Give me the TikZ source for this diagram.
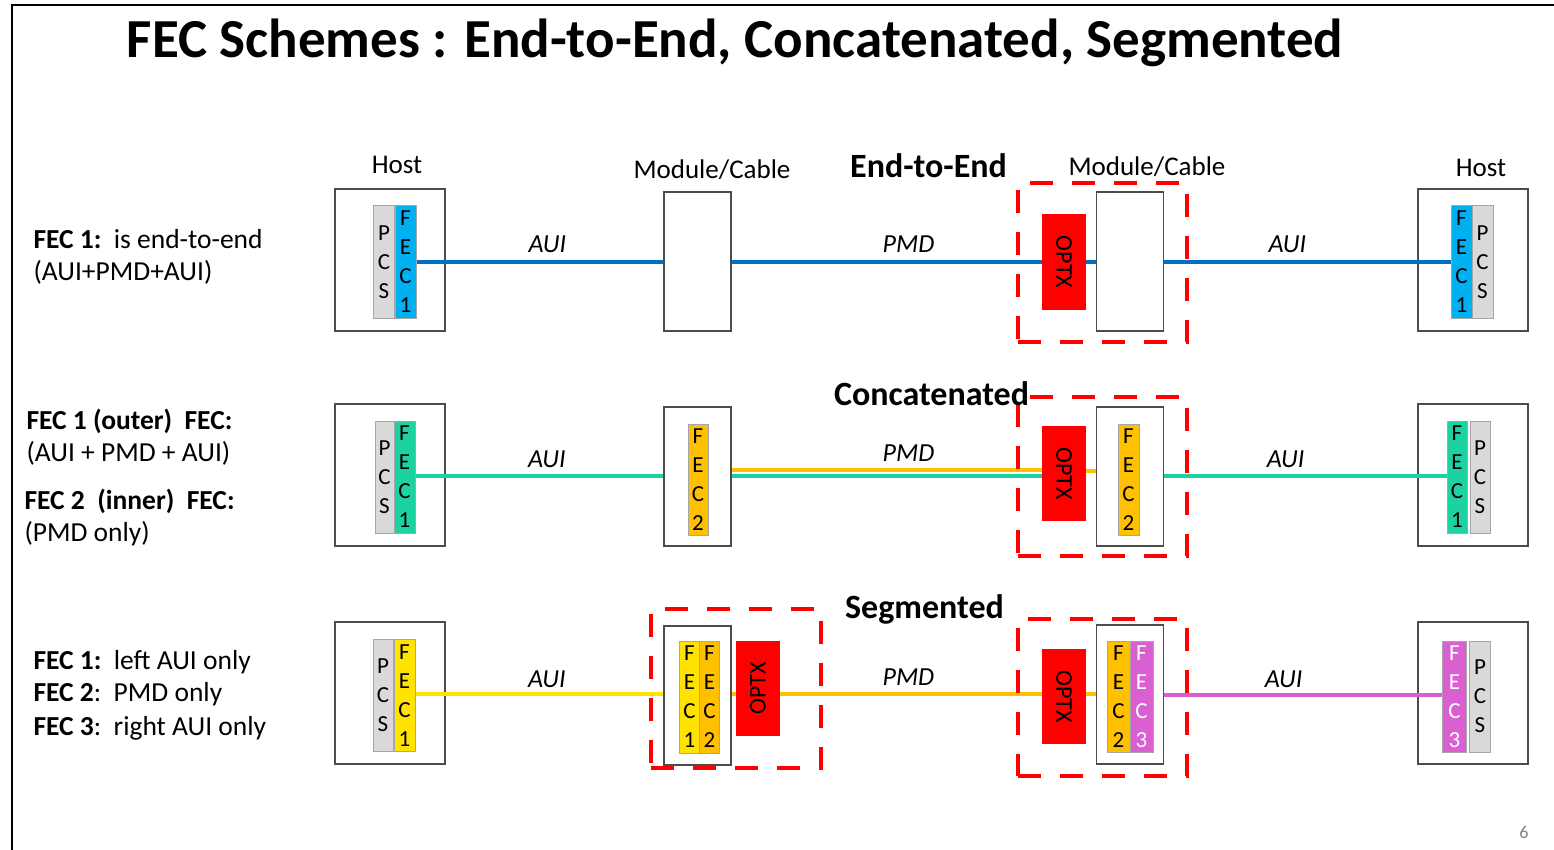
\documentclass[tikz,border=0pt]{standalone}
\usepackage{fontspec}
\setmainfont{Carlito}
\usetikzlibrary{positioning}

\definecolor{linkblue}{RGB}{0,112,192}
\definecolor{fecblue}{RGB}{0,176,240}
\definecolor{fecteal}{RGB}{28,210,160}
\definecolor{fecorange}{RGB}{255,192,0}
\definecolor{fecyellow}{RGB}{255,226,0}
\definecolor{fecpink}{RGB}{218,95,208}
\definecolor{pcsgray}{RGB}{217,217,217}

\begin{document}
\begin{tikzpicture}[x=1pt, y=-1pt,
    box/.style={draw=black!70, line width=1.3pt, fill=white, inner sep=0pt},
    hostbox/.style={box, minimum width=110pt, minimum height=142pt},
    modbox/.style={box, minimum width=67pt, minimum height=139pt},
    slot/.style={draw=black!35, line width=1pt, inner sep=0pt, minimum width=21pt,
      minimum height=112pt, align=center, font=\fontsize{23}{29}\selectfont},
    optxbox/.style={fill=red, inner sep=0pt, minimum width=44pt, minimum height=96pt,
      font=\fontsize{24}{28}\selectfont},
    zone/.style={draw=red, line width=4pt, dash pattern=on 23pt off 19pt,
      minimum width=169pt, minimum height=159pt, inner sep=0pt},
    link/.style={line width=4pt},
    lbl/.style={font=\fontsize{26}{30}\selectfont\itshape, anchor=base, yshift=9pt},
    side/.style={font=\fontsize{27.5}{30}\selectfont, anchor=base west},
    heading/.style={font=\fontsize{34}{38}\selectfont\bfseries, anchor=base},
    toplbl/.style={font=\fontsize{27}{30}\selectfont, anchor=base}
  ]
  \useasboundingbox (0,0) rectangle (1554,850);
  \draw[line width=2pt] (12,850) -- (12,5) -- (1554,5);

  \node[anchor=base, font=\fontsize{55}{60}\selectfont\bfseries] (title) at (735,58)
    {FEC Schemes : End-to-End, Concatenated, Segmented};

  % line levels
  \coordinate (lvl1) at (0,262);
  \coordinate (lvl2) at (0,476);
  \coordinate (lvl3) at (0,694);

  % ---- End-to-End
  \node[hostbox] (hostL1) at (390,260) {};
  \node[slot, fill=pcsgray] (pcsL1) at (384,262) {P\\C\\S};
  \node[slot, fill=fecblue] (fecL1) at (405.5,262) {F\\E\\C\\1};
  \node[modbox] (modL1) at (697.5,261.5) {};
  \node[optxbox] (optx1) at (1064,262) {\rotatebox{-90}{OPTX}};
  \node[modbox] (modR1) at (1130,261.5) {};
  \node[hostbox] (hostR1) at (1473,260) {};
  \node[slot, fill=fecblue] (fecR1) at (1461.5,262) {F\\E\\C\\1};
  \node[slot, fill=pcsgray] (pcsR1) at (1482.5,262) {P\\C\\S};

  \draw[link, linkblue] (fecL1.east |- lvl1) -- node[lbl, pos=0.53, black] {AUI} (modL1.west |- lvl1);
  \draw[link, linkblue] (modL1.east |- lvl1) -- node[lbl, pos=0.57, black] {PMD} (optx1.west |- lvl1);
  \draw[link, linkblue] (optx1.east |- lvl1) -- (modR1.west |- lvl1);
  \draw[link, linkblue] (modR1.east |- lvl1) -- node[lbl, pos=0.43, black] {AUI} (fecR1.west |- lvl1);
  \node[zone] (zone1) at (1102.5,262.5) {};

  \node[toplbl] (hostL1txt) at (397,174) {Host};
  \node[toplbl] (modL1txt) at (712,179) {Module/Cable};
  \node[heading] (e2e) at (928.5,178) {End-to-End};
  \node[toplbl] (modR1txt) at (1147,176) {Module/Cable};
  \node[toplbl] (hostR1txt) at (1481,177) {Host};

  \node[side] (txt11) at (30,248) {\textbf{FEC 1:}\ \ is end-to-end};
  \node[side] (txt12) at (30,280) {(AUI+PMD+AUI)};

  % ---- Concatenated
  \node[hostbox] (hostL2) at (390,475) {};
  \node[slot, fill=pcsgray, minimum width=19pt] (pcsL2) at (384.5,477) {P\\C\\S};
  \node[slot, fill=fecteal] (fecL2) at (404.5,477) {F\\E\\C\\1};
  \node[modbox] (modL2) at (697.5,476.5) {};
  \node[slot, fill=fecorange, minimum width=20pt, minimum height=111pt] (fecM2) at (698,479.5) {F\\E\\C\\2};
  \node[optxbox, minimum height=95pt] (optx2) at (1064,473.5) {\rotatebox{-90}{OPTX}};
  \node[modbox] (modR2) at (1130,476.5) {};
  \node[slot, fill=fecorange, minimum height=111pt] (fecN2) at (1128.5,479.5) {F\\E\\C\\2};
  \node[hostbox] (hostR2) at (1473,475) {};
  \node[slot, fill=fecteal, minimum width=20pt] (fecR2) at (1457,477) {F\\E\\C\\1};
  \node[slot, fill=pcsgray, minimum width=20pt] (pcsR2) at (1480,477) {P\\C\\S};

  \draw[link, fecteal] (fecL2.east |- lvl2) -- node[lbl, pos=0.53, black] {AUI} (modL2.west |- lvl2);
  \draw[link, fecorange] ([yshift=6pt]modL2.east |- lvl2) -- ([yshift=6pt]optx2.west |- lvl2);
  \draw[link, fecteal] (modL2.east |- lvl2) -- node[lbl, pos=0.57, yshift=6pt, black] {PMD} (optx2.west |- lvl2);
  \draw[link, fecorange] ([yshift=5pt]optx2.east |- lvl2) -- ([yshift=5pt]modR2.west |- lvl2);
  \draw[link, fecteal] (modR2.east |- lvl2) -- node[lbl, pos=0.43, black] {AUI} (fecR2.west |- lvl2);
  \node[zone] (zone2) at (1102.5,476.5) {};

  \node[heading] (concat) at (931.5,405) {Concatenated};

  \node[side] (txt21) at (23,429) {\textbf{FEC 1 (outer)\ \ FEC:}};
  \node[side] (txt22) at (23,461) {(AUI + PMD + AUI)};
  \node[side] (txt23) at (21,509) {\textbf{FEC 2\ \ (inner)\ \ FEC:}};
  \node[side] (txt24) at (21,541) {(PMD only)};

  % ---- Segmented
  \node[hostbox] (hostL3) at (390,693) {};
  \node[slot, fill=pcsgray, minimum width=20pt] (pcsL3) at (383,695.5) {P\\C\\S};
  \node[slot, fill=fecyellow] (fecL3) at (404.5,695.5) {F\\E\\C\\1};
  \node[modbox] (modL3) at (697.5,695.5) {};
  \node[slot, fill=fecyellow, minimum width=20pt] (fecM3a) at (689.5,697) {F\\E\\C\\1};
  \node[slot, fill=fecorange, minimum width=20pt] (fecM3b) at (709.5,697) {F\\E\\C\\2};
  \node[optxbox, minimum height=95pt] (optx3a) at (758,688.5) {\rotatebox{90}{OPTX}};
  \node[optxbox, minimum height=95pt] (optx3b) at (1064,696.5) {\rotatebox{-90}{OPTX}};
  \node[modbox] (modR3) at (1130,694.5) {};
  \node[slot, fill=fecorange, minimum width=23pt, minimum height=111pt] (fecN3a) at (1118.5,696.5) {F\\E\\C\\2};
  \node[slot, fill=fecpink, text=white, minimum width=23pt, minimum height=111pt] (fecN3b) at (1141.5,696.5) {F\\E\\C\\3};
  \node[hostbox] (hostR3) at (1473,693) {};
  \node[slot, fill=fecpink, text=white, minimum width=24pt, minimum height=111pt] (fecR3) at (1454.5,696.5) {F\\E\\C\\3};
  \node[slot, fill=pcsgray, minimum height=111pt] (pcsR3) at (1480,696.5) {P\\C\\S};

  \draw[link, fecyellow] (fecL3.east |- lvl3) -- node[lbl, pos=0.53, yshift=-2pt, black] {AUI} (modL3.west |- lvl3);
  \draw[link, fecorange] (modL3.east |- lvl3) -- (optx3a.west |- lvl3);
  \draw[link, fecorange] (optx3a.east |- lvl3) -- node[lbl, pos=0.49, black] {PMD} (optx3b.west |- lvl3);
  \draw[link, fecorange] (optx3b.east |- lvl3) -- (modR3.west |- lvl3);
  \draw[link, fecpink] ([yshift=-1pt]modR3.east |- lvl3) -- node[lbl, pos=0.43, yshift=-1pt, black] {AUI} ([yshift=-1pt]fecR3.west |- lvl3);
  \node[zone, minimum width=170pt] (zone3a) at (736,688.5) {};
  \node[zone, minimum height=157pt] (zone3b) at (1102.5,697.5) {};

  \node[heading] (segm) at (924.5,618) {Segmented};

  \node[side] (txt31) at (30,669) {\textbf{FEC 1:}\ \ left AUI only};
  \node[side] (txt32) at (30,701) {\textbf{FEC 2}:\ \ PMD only};
  \node[side] (txt33) at (30,735) {\textbf{FEC 3}:\ \ right AUI only};

  \node[anchor=base, font=\fontsize{18}{20}\selectfont, text=black!50] (pageno) at (1524,838) {6};
\end{tikzpicture}
\end{document}
